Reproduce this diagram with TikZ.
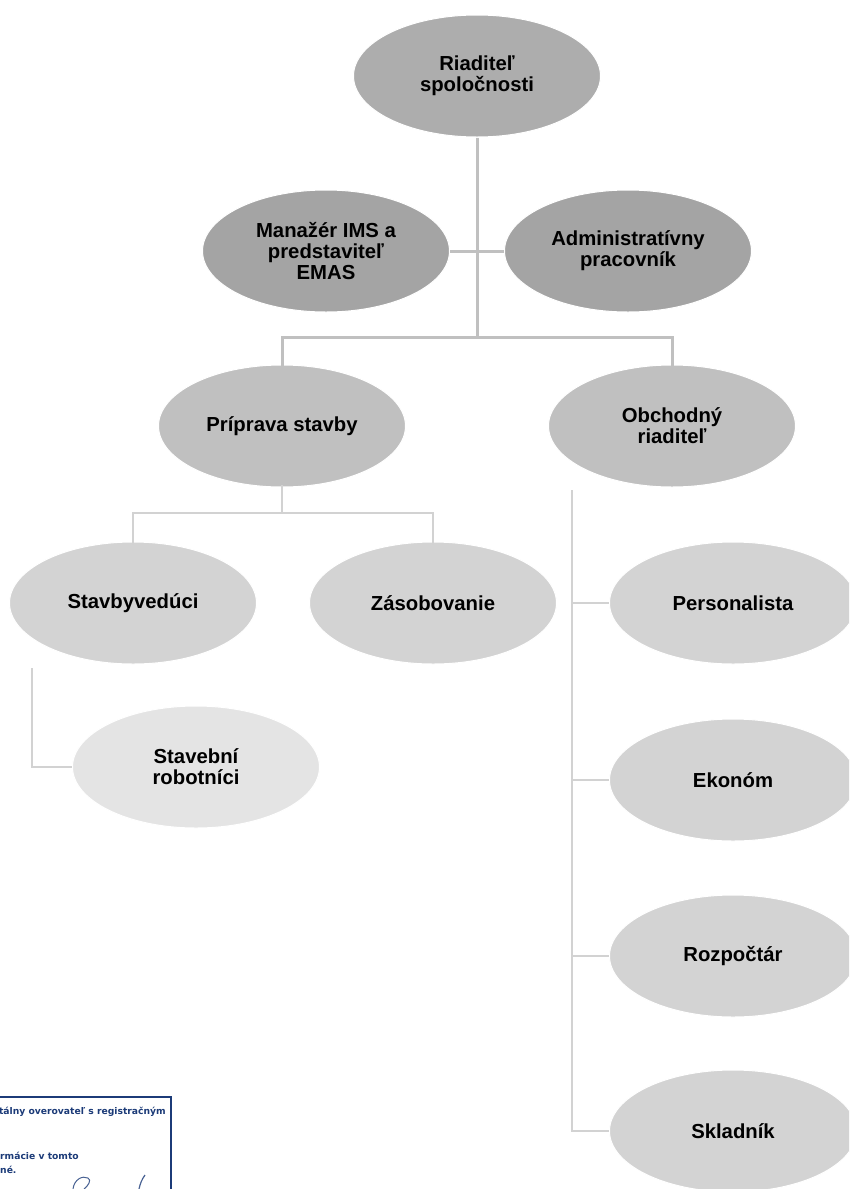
\documentclass[tikz,border=0pt]{standalone}
\usepackage{fontspec}
\setmainfont{Liberation Sans}
\newfontfamily\stampfont{DejaVu Sans}
\usetikzlibrary{shapes.geometric}
\definecolor{cRiad}{HTML}{ADADAD}
\definecolor{cDark}{HTML}{A4A4A4}
\definecolor{cMid}{HTML}{C0C0C0}
\definecolor{cLight}{HTML}{D3D3D3}
\definecolor{cPale}{HTML}{E4E4E4}
\definecolor{lnTop}{HTML}{C0C0C0}
\definecolor{lnLow}{HTML}{D2D2D2}
\definecolor{navy}{HTML}{1C3B78}
\tikzset{
  org/.style={ellipse, draw=white, line width=1pt, minimum width=247pt, minimum height=122pt,
    inner sep=0pt, align=center, font=\fontsize{20.3}{21}\selectfont\bfseries},
  linkTop/.style={draw=lnTop, line width=3pt},
  linkLow/.style={draw=lnLow, line width=2.6pt},
  stamptext/.style={text=navy, font=\stampfont\fontsize{9.2}{10}\selectfont\bfseries, inner sep=0pt}
}
\begin{document}
\begin{tikzpicture}[x=1pt,y=-1pt]
\clip (0,0) rectangle (849,1189);
\fill[white] (0,0) rectangle (849,1189);

% nodes
\node[org, fill=cRiad] (riad) at (477,76) {Riaditeľ\\spoločnosti};
\node[org, fill=cDark] (man) at (326,251) {Manažér IMS a\\predstaviteľ\\EMAS};
\node[org, fill=cDark] (adm) at (628,251) {Administratívny\\pracovník};
\node[org, fill=cMid] (prip) at (282,426) {Príprava stavby};
\node[org, fill=cMid] (obch) at (672,426) {Obchodný\\riaditeľ};
\node[org, fill=cLight] (stav) at (133,603) {Stavbyvedúci};
\node[org, fill=cLight] (zas) at (433,603) {Zásobovanie};
\node[org, fill=cPale] (rob) at (196,767) {Stavební\\robotníci};
\node[org, fill=cLight] (pers) at (733,603) {Personalista};
\node[org, fill=cLight] (ekon) at (733,780) {Ekonóm};
\node[org, fill=cLight] (rozp) at (733,956) {Rozpočtár};
\node[org, fill=cLight] (skl) at (733,1131) {Skladník};

% junction coordinates
\coordinate (bar) at (477,337);
\coordinate (bar2) at (282,513);
\coordinate (s1) at (32,668);
\coordinate (o1) at (572,490);

% connectors
\draw[linkTop] (riad.south) -- (bar);
\draw[linkTop] (man.east) -- (adm.west);
\draw[linkTop] (bar) -| ([yshift=-3pt]prip.north);
\draw[linkTop] (bar) -| ([yshift=-3pt]obch.north);
\draw[linkLow] ([yshift=3pt]prip.south) -- (bar2);
\draw[linkLow] (bar2) -| ([yshift=-3pt]stav.north);
\draw[linkLow] (bar2) -| ([yshift=-3pt]zas.north);
\draw[linkLow] (s1) |- (rob.west);
\draw[linkLow] (o1) |- (pers.west);
\draw[linkLow] (o1) |- (ekon.west);
\draw[linkLow] (o1) |- (rozp.west);
\draw[linkLow] (o1) |- (skl.west);

% stamp fragment
\draw[navy, line width=1.6pt] (-5,1097) -- (171,1097) -- (171,1195);
\node[stamptext, anchor=east] (st1) at (166,1112) {tálny overovateľ s registračným};
\node[stamptext, anchor=west] (st2) at (0,1156) {rmácie v tomto};
\node[stamptext, anchor=west] (st3) at (0,1170) {né.};
\draw[navy!80, line width=1pt] (73,1189) .. controls (74,1180) and (82,1175) .. (88,1178)
  .. controls (92,1180) and (88,1186) .. (84,1189);
\draw[navy!80, line width=1.2pt] (139,1189) .. controls (140,1184) and (142,1179) .. (145,1175);
\end{tikzpicture}
\end{document}
